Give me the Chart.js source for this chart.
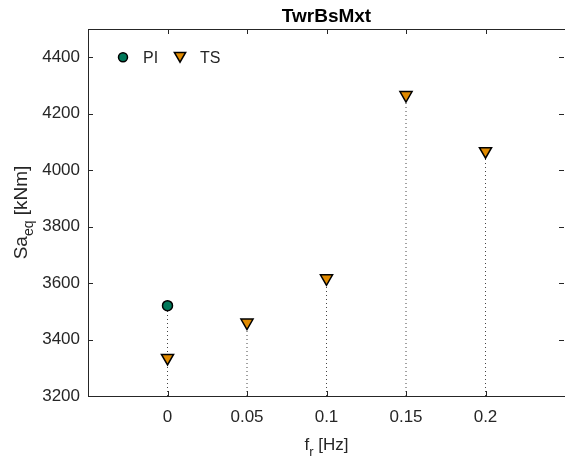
<!DOCTYPE html>
<html>
<head>
<meta charset="utf-8">
<script src="https://cdn.jsdelivr.net/npm/chart.js@4/dist/chart.umd.min.js"></script>
<style>
  body { margin: 0; background: #fff; }
  canvas { display: block; }
</style>
</head>
<body>
<canvas id="stemChart" width="565" height="459"></canvas>
<script>
// datos
const piFreq = [0];
const piValues = [3520];
const tsFreq = [0, 0.05, 0.1, 0.15, 0.2];
const tsValues = [3335, 3460, 3617, 4266, 4067];
const xTicks = [0, 0.05, 0.1, 0.15, 0.2];
const yTicks = [3200, 3400, 3600, 3800, 4000, 4200, 4400];
const xLimits = [-0.05, 0.25];
const yLimits = [3200, 4500];

const piColor = '#00785a';
const tsColor = '#e08a00';
const axisColor = '#262626';
const font = 'Arial, "Liberation Sans", sans-serif';

// una linea punteada por cada stem, desde la base del eje hasta el valor
const stemSets = [];
const addStems = (xs, ys) => {
  xs.forEach((x, i) => {
    stemSets.push({
      type: 'line',
      data: [{ x, y: yLimits[0] }, { x, y: ys[i] }],
      borderColor: '#444',
      borderWidth: 1,
      borderDash: [1, 3],
      pointRadius: 0,
      order: 2,
    });
  });
};
addStems(piFreq, piValues);
addStems(tsFreq, tsValues);

const frame = {
  id: 'frame',
  afterDatasetsDraw(chart) {
    const { ctx, chartArea: a, scales } = chart;
    const x = scales.x, y = scales.y;
    ctx.save();
    ctx.strokeStyle = axisColor;
    ctx.lineWidth = 1;
    ctx.strokeRect(a.left + 0.5, a.top + 0.5, a.right - a.left, a.bottom - a.top);
    ctx.beginPath();
    const tl = 5;
    xTicks.forEach((v) => {
      const px = Math.round(x.getPixelForValue(v)) + 0.5;
      ctx.moveTo(px, a.bottom); ctx.lineTo(px, a.bottom - tl);
      ctx.moveTo(px, a.top); ctx.lineTo(px, a.top + tl);
    });
    yTicks.forEach((v) => {
      const py = Math.round(y.getPixelForValue(v)) + 0.5;
      ctx.moveTo(a.left, py); ctx.lineTo(a.left + tl, py);
      ctx.moveTo(a.right - 1, py); ctx.lineTo(a.right - 1 - tl, py);
    });
    ctx.stroke();

    // titulo
    const cx = (a.left + a.right) / 2;
    ctx.fillStyle = '#000';
    ctx.font = 'bold 19px ' + font;
    ctx.textAlign = 'center';
    ctx.textBaseline = 'alphabetic';
    ctx.fillText('TwrBsMxt', cx, 22);

    // etiqueta eje x: f_r [Hz]
    ctx.fillStyle = axisColor;
    ctx.font = '17px ' + font;
    ctx.textAlign = 'left';
    const wf = ctx.measureText('f').width;
    ctx.font = '13px ' + font;
    const wr = ctx.measureText('r').width;
    ctx.font = '17px ' + font;
    const wh = ctx.measureText(' [Hz]').width;
    let sx = cx - (wf + wr + wh) / 2;
    ctx.fillText('f', sx, 450);
    ctx.font = '13px ' + font;
    ctx.fillText('r', sx + wf, 456);
    ctx.font = '17px ' + font;
    ctx.fillText(' [Hz]', sx + wf + wr, 450);

    // etiqueta eje y: Sa_eq [kNm]
    const cy = (a.top + a.bottom) / 2;
    ctx.translate(27, cy);
    ctx.rotate(-Math.PI / 2);
    ctx.font = '19px ' + font;
    const wsa = ctx.measureText('Sa').width;
    ctx.font = '14px ' + font;
    const weq = ctx.measureText('eq').width;
    ctx.font = '19px ' + font;
    const wk = ctx.measureText(' [kNm]').width;
    sx = -(wsa + weq + wk) / 2;
    ctx.fillText('Sa', sx, 0);
    ctx.font = '14px ' + font;
    ctx.fillText('eq', sx + wsa, 6);
    ctx.font = '19px ' + font;
    ctx.fillText(' [kNm]', sx + wsa + weq, 0);
    ctx.restore();

    // leyenda dentro del area
    ctx.save();
    const ly = y.getPixelForValue(yTicks[yTicks.length - 1]);
    ctx.fillStyle = piColor; ctx.strokeStyle = '#000'; ctx.lineWidth = 1.5;
    Chart.helpers.drawPoint(ctx, { pointStyle: 'circle', radius: 4.5, borderWidth: 1.5 }, 123, ly);
    ctx.fillStyle = tsColor;
    Chart.helpers.drawPoint(ctx, { pointStyle: 'triangle', radius: 6.5, rotation: 180, borderWidth: 1.5 }, 180, ly - 1.5);
    ctx.fillStyle = axisColor;
    ctx.font = '16px ' + font;
    ctx.textBaseline = 'middle';
    ctx.textAlign = 'left';
    ctx.fillText('PI', 143, ly + 1);
    ctx.fillText('TS', 200, ly + 1);
    ctx.restore();
  },
};

new Chart(document.getElementById('stemChart'), {
  type: 'scatter',
  data: {
    datasets: [
      {
        label: 'PI',
        data: piFreq.map((x, i) => ({ x, y: piValues[i] })),
        pointStyle: 'circle',
        pointRadius: 5,
        backgroundColor: piColor,
        borderColor: '#000',
        borderWidth: 1.5,
        order: 0,
      },
      {
        label: 'TS',
        data: tsFreq.map((x, i) => ({ x, y: tsValues[i] })),
        pointStyle: 'triangle',
        rotation: 180,
        pointRadius: 7,
        backgroundColor: tsColor,
        borderColor: '#000',
        borderWidth: 1.5,
        order: 0,
      },
      ...stemSets,
    ],
  },
  options: {
    responsive: false,
    animation: false,
    devicePixelRatio: 1,
    layout: { autoPadding: false, padding: { top: 29, right: 0, left: 0, bottom: 0 } },
    plugins: { legend: { display: false }, tooltip: { enabled: false }, title: { display: false } },
    scales: {
      x: {
        type: 'linear',
        min: xLimits[0],
        max: xLimits[1],
        afterBuildTicks: (s) => { s.ticks = xTicks.map((v) => ({ value: v })); },
        afterFit: (s) => { s.height = 63; s.paddingLeft = 0; s.paddingRight = 0; },
        grid: { display: false, drawTicks: false },
        border: { display: false },
        ticks: { padding: 11, color: axisColor, font: { family: font, size: 17 }, maxRotation: 0, callback: (v) => String(v) },
      },
      y: {
        type: 'linear',
        min: yLimits[0],
        max: yLimits[1],
        afterBuildTicks: (s) => { s.ticks = yTicks.map((v) => ({ value: v })); },
        afterFit: (s) => { s.width = 88; s.paddingTop = 0; s.paddingBottom = 0; },
        grid: { display: false, drawTicks: false },
        border: { display: false },
        ticks: { padding: 8, color: axisColor, font: { family: font, size: 17 }, callback: (v) => String(v) },
      },
    },
  },
  plugins: [frame],
});
</script>
</body>
</html>
